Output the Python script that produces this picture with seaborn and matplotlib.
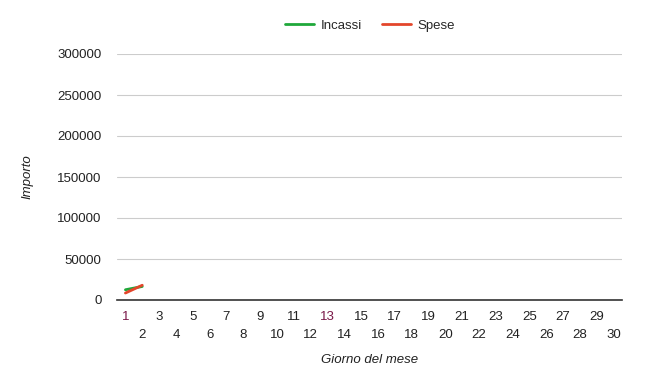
import matplotlib
matplotlib.use("Agg")
import matplotlib.pyplot as plt
import seaborn as sns
import pandas as pd

days = list(range(1, 31))
incassi_days = [1, 2]
incassi = [12500, 16500]
spese_days = [1, 2]
spese = [8500, 18000]
yticks = [0, 50000, 100000, 150000, 200000, 250000, 300000]

df = pd.DataFrame({
    "Giorno": incassi_days + spese_days,
    "Importo": incassi + spese,
    "Serie": ["Incassi"] * len(incassi) + ["Spese"] * len(spese),
})

sns.set_theme(style="white")
plt.rcParams['font.family'] = ['Liberation Sans', 'DejaVu Sans']

fig = plt.figure(figsize=(6.67, 3.71), dpi=100)
ax = fig.add_axes([117/667, 1-300/371, (622-117)/667, (300-54)/371])

sns.lineplot(data=df, x="Giorno", y="Importo", hue="Serie",
             palette={"Incassi": "#1fa83a", "Spese": "#e3462b"},
             linewidth=2, ax=ax, legend=False)

ax.set_xlim(0.5, 30.5)
ax.set_ylim(0, 300000)
ax.set_yticks(yticks)
ax.set_yticklabels([str(v) for v in yticks], fontsize=9.5, color="#222222")
ax.yaxis.grid(True, color="#cccccc", linewidth=0.8)
ax.set_axisbelow(True)
for s in ["top", "right", "left"]:
    ax.spines[s].set_visible(False)
ax.spines["bottom"].set_color("#333333")
ax.spines["bottom"].set_linewidth(1.2)
ax.spines["bottom"].set_zorder(3)
ax.tick_params(axis="y", length=0, pad=11)
ax.tick_params(axis="x", length=0, pad=8)

ax.set_xticks(days)
labels = [str(d) if d % 2 == 1 else "\n" + str(d) for d in days]
ax.set_xticklabels(labels, fontsize=9.5, color="#222222", linespacing=1.6)
for t, d in zip(ax.get_xticklabels(), days):
    if d in (1, 13):
        t.set_color("#7a1848")

ax.set_xlabel("Giorno del mese", fontsize=9.5, style="italic", color="#222222", labelpad=10)
ax.set_ylabel("Importo", fontsize=9.5, style="italic", color="#222222", labelpad=17)

from matplotlib.lines import Line2D
handles = [Line2D([], [], color="#1fa83a", lw=2), Line2D([], [], color="#e3462b", lw=2)]
fig.legend(handles, ["Incassi", "Spese"], loc="center", bbox_to_anchor=(370/667, 1-26/371),
           ncol=2, frameon=False, fontsize=9.5, handlelength=2.2, columnspacing=1.5,
           handletextpad=0.5)

fig.savefig("out.png", dpi=100, facecolor="white")
